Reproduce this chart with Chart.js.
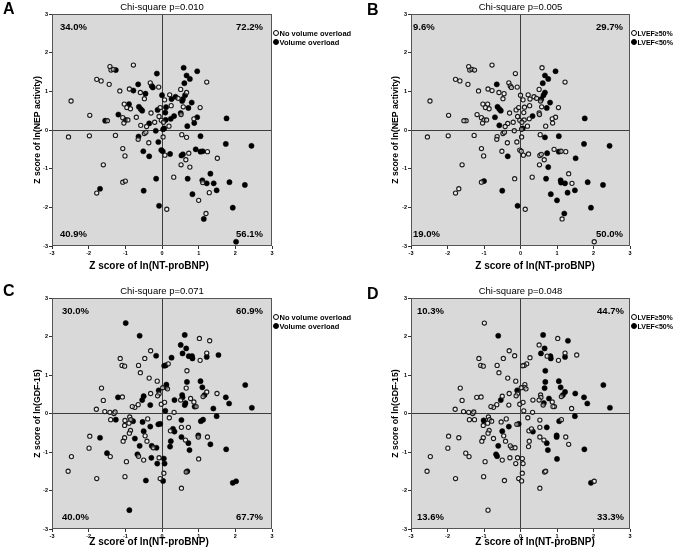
<!DOCTYPE html>
<html>
<head>
<meta charset="utf-8">
<script src="https://cdn.jsdelivr.net/npm/chart.js@4.4.1/dist/chart.umd.min.js"></script>
<style>
  html, body { margin: 0; padding: 0; background: #fff; }
  body { width: 675px; height: 556px; position: relative; overflow: hidden;
         font-family: "Liberation Sans", Arial, sans-serif; color: #000; }
  .panel { position: absolute; }
  .panel canvas { position: absolute; left: 0; top: 0; }
  .letter { position: absolute; font-weight: bold; font-size: 16px; line-height: 16px; }
  .title { position: absolute; font-size: 9.5px; line-height: 9.5px; white-space: nowrap; transform: translateX(-50%); }
  .xtitle { position: absolute; font-size: 10px; line-height: 10px; font-weight: bold; white-space: nowrap; transform: translateX(-50%); }
  .legrow { position: absolute; height: 9px; display: flex; align-items: center; font-weight: bold; white-space: nowrap; }
  .dot { display: inline-block; width: 4px; height: 4px; border: 1px solid #000; border-radius: 50%; margin-right: 1px; background: #fff; }
  .dot.fill { background: #000; }
</style>
</head>
<body>
<script>
/* ---------- data: z scores ---------- */
// NT-proBNP vs NEP activity (panels A and B)
const nepX = [
  -0.78,-1.42,-1.39,-1.33,-1.26,-1.78,-1.66,-1.44,-0.14,-0.32,
  -0.28,-0.25,-0.65,-0.89,-0.78,-1.15,-0.59,-0.45,-0.09,-0.48,
  -2.48,0.00,-1.03,-0.90,-0.96,-0.86,-0.63,-0.58,-0.54,-1.19,
  -1.07,-1.00,-0.93,-0.70,-1.49,-1.55,-1.97,-1.04,-0.58,-0.35,
  -0.42,-0.30,-0.20,-0.12,-0.08,-0.05,-0.02,0.59,0.96,0.67,
  0.76,0.61,1.22,0.51,0.67,0.63,0.57,0.55,0.21,0.37,
  0.26,0.07,0.81,1.04,0.72,0.58,0.11,0.25,0.51,0.52,
  0.33,0.24,0.09,0.96,0.87,0.88,0.69,1.76,0.19,0.10,
  0.04,0.06,0.03,0.44,-2.55,-1.98,-1.27,-0.64,-0.65,-0.48,
  -0.44,-0.36,-0.10,-0.17,-0.02,-0.51,-0.35,-1.07,-1.01,-1.60,
  -1.07,-1.00,-0.16,-1.69,-1.78,-0.50,-0.08,0.13,0.03,0.54,
  0.67,1.05,0.02,0.08,0.22,0.53,0.57,0.65,0.73,0.92,
  1.05,1.11,1.24,1.51,1.74,2.44,0.52,0.76,0.32,0.70,
  1.32,1.10,1.11,1.22,1.41,1.84,2.26,1.49,1.29,0.83,
  1.00,1.93,1.20,1.14,2.02
];
const nepY = [
  1.68,1.64,1.55,1.57,1.55,1.31,1.27,1.18,1.46,1.22,
  1.14,1.10,1.18,1.06,1.02,1.01,0.97,0.94,1.11,0.81,
  0.75,0.90,0.67,0.67,0.58,0.55,0.60,0.54,0.50,0.40,
  0.32,0.26,0.26,0.33,0.24,0.24,0.38,0.18,0.12,0.17,
  0.09,0.44,0.20,0.52,0.35,0.58,0.25,1.61,1.52,1.41,
  1.32,1.21,1.24,1.05,0.97,0.90,0.80,0.75,0.91,0.86,
  0.80,0.78,0.71,0.58,0.57,0.60,0.59,0.63,0.44,0.40,
  0.36,0.29,0.45,0.33,0.29,0.18,0.10,0.30,0.10,0.26,
  0.20,0.04,0.02,0.82,-0.18,-0.15,-0.14,-0.17,-0.24,-0.09,
  -0.06,-0.33,-0.31,-0.02,-0.52,-0.55,-0.68,-0.48,-0.67,-0.90,
  -1.35,-1.32,-1.26,-1.52,-1.63,-1.57,-1.96,-2.05,-0.18,-0.12,
  -0.19,-0.16,-0.55,-0.65,-0.62,-0.66,-0.63,-0.77,-0.60,-0.50,
  -0.56,-0.55,-0.56,-0.73,-0.36,-0.41,-0.90,-0.96,-1.22,-1.26,
  -1.13,-1.30,-1.36,-1.38,-1.38,-1.35,-1.42,-1.56,-1.62,-1.66,
  -1.82,-2.01,-2.16,-2.30,-2.89
];
// 1 = volume overload (A), 1 = LVEF<50% (B)
const nepVolume = [
  0,0,0,0,1,0,0,0,1,0, 1,1,1,0,1,0,0,1,0,0, 0,1,0,1,0,0,1,1,1,1,
  0,1,0,0,0,1,0,0,0,1, 0,0,0,1,0,0,0,1,1,1, 1,1,0,0,0,1,1,1,0,1,
  1,0,1,0,1,0,1,0,1,0, 1,1,1,1,0,1,1,1,0,1, 0,1,1,0,0,0,0,1,0,0,
  0,0,1,1,1,1,1,0,0,0, 0,0,1,1,0,1,1,0,0,0, 0,1,1,0,1,1,1,0,0,1,
  1,1,0,0,1,1,0,0,0,1, 1,1,0,1,1,1,1,1,0,1, 0,1,0,1,1
];
const nepLvef = [
  0,0,0,0,0,0,0,0,0,0, 0,0,1,0,0,0,0,0,0,0, 0,0,0,0,0,0,1,1,1,0,
  0,0,0,1,0,0,0,0,1,0, 0,0,0,0,0,0,0,0,1,1, 1,1,0,0,1,1,1,0,0,0,
  0,0,1,0,1,0,0,0,0,0, 1,0,0,0,0,0,0,1,0,0, 0,1,0,0,0,0,0,0,0,0,
  0,0,0,0,0,0,1,0,0,0, 0,1,0,0,0,1,1,0,0,0, 1,1,0,0,0,0,0,0,1,0,
  1,0,0,1,1,1,0,1,0,1, 0,1,1,1,0,1,1,1,1,1, 1,1,1,0,0
];

// NT-proBNP vs GDF-15 (panels C and D)
const gdfX = [
  -0.99,-0.61,-0.31,-0.47,-0.16,-1.14,-1.09,-1.02,-0.64,-0.59,
  -0.35,-0.13,-1.65,-1.60,-1.79,-1.56,-1.42,-1.31,-1.28,-1.20,
  -1.08,-0.54,-0.50,-0.65,-0.74,-0.81,-0.32,-0.31,-0.09,-0.08,
  -0.12,-0.02,0.62,1.02,1.30,0.51,0.66,0.56,0.73,0.82,
  0.83,1.22,1.22,1.54,1.04,0.26,0.17,0.10,0.06,0.68,
  0.12,0.11,0.15,0.02,0.68,0.66,1.05,1.10,2.27,1.22,
  1.50,1.16,1.12,0.55,0.56,0.51,0.78,0.87,0.93,0.89,
  0.64,0.62,0.34,0.07,0.09,0.33,1.74,1.83,1.40,2.45,
  -1.26,-1.40,-1.01,-1.02,-0.88,-0.85,-0.90,-0.79,-0.53,-0.39,
  -0.10,-0.05,-0.86,-0.89,-0.50,-0.46,-0.32,-0.41,-0.74,-1.02,
  -1.06,-0.61,-0.64,-0.67,-0.24,-0.28,-0.15,-0.29,-0.50,-0.08,
  -0.13,-1.97,-1.99,-1.69,-1.50,-1.41,-2.47,-2.56,-1.78,-0.97,
  -1.01,-0.44,-0.89,-0.05,0.03,0.05,0.05,0.07,0.20,0.23,
  0.30,0.34,0.24,0.22,0.53,0.53,0.53,0.64,0.72,0.72,
  0.75,0.99,0.99,1.06,1.12,1.24,1.32,1.49,1.75,1.00,
  0.66,0.69,0.53,1.93,2.02
];
const gdfY = [
  2.35,2.02,1.63,1.43,1.50,1.43,1.25,1.23,1.25,1.06,
  0.92,0.84,0.66,0.34,0.11,0.05,0.03,0.00,0.04,0.42,
  0.43,0.35,0.45,0.23,0.16,0.18,0.22,0.52,0.60,0.51,
  0.46,0.24,2.04,1.95,1.89,1.78,1.69,1.56,1.49,1.49,
  1.43,1.57,1.47,1.52,1.38,1.45,1.29,1.25,1.24,1.11,
  0.75,0.68,0.64,0.67,0.82,0.66,0.84,0.68,0.74,0.56,
  0.52,0.48,0.44,0.48,0.42,0.35,0.39,0.30,0.18,0.18,
  0.27,0.22,0.35,0.29,0.07,0.03,0.42,0.26,0.13,0.15,
  -0.16,-0.16,-0.18,-0.31,-0.09,-0.16,-0.25,-0.20,-0.22,-0.14,
  -0.28,-0.27,-0.44,-0.51,-0.46,-0.58,-0.34,-0.72,-0.65,-0.63,
  -0.72,-0.84,-1.11,-1.06,-0.89,-0.84,-0.89,-1.15,-1.21,-1.15,
  -1.30,-0.59,-0.90,-0.63,-1.03,-1.12,-1.12,-1.50,-1.69,-1.25,
  -1.64,-1.74,-2.51,-1.69,-1.75,-1.55,-1.17,-1.30,-0.11,-0.45,
  -0.40,-0.47,-0.72,-0.86,-0.17,-0.36,-0.61,-0.69,-0.77,-0.36,
  -0.95,-0.57,-0.61,-0.20,-0.16,-0.61,-0.80,-0.07,-0.93,-1.18,
  -1.52,-1.50,-1.94,-1.80,-1.76
];
const gdfVolume = [
  1,1,0,0,1,0,0,0,0,0, 0,0,0,0,0,0,0,0,0,1, 0,1,1,0,0,0,1,0,1,0,
  0,0,1,0,0,1,1,1,1,1, 1,0,1,1,0,1,0,1,1,0, 1,1,0,0,1,0,1,1,1,0,
  0,1,0,1,1,0,0,0,0,1, 1,1,1,0,1,0,1,1,1,1, 1,0,0,0,0,0,0,1,1,0,
  1,1,0,0,1,0,1,0,1,0, 0,1,0,1,0,1,1,1,0,0, 1,0,0,1,1,0,0,0,0,0,
  0,1,1,0,1,0,1,1,0,0, 1,1,1,1,1,0,1,0,1,0, 1,1,0,1,1,0,1,1,1,0,
  0,1,0,1,1
];
const gdfLvef = [
  0,1,0,0,0,0,0,0,0,0, 0,0,0,0,0,0,0,0,0,0, 0,1,0,0,0,0,0,0,1,0,
  0,0,1,0,1,0,1,1,0,1, 1,0,1,0,0,0,0,0,0,1, 0,0,0,0,1,1,1,1,1,1,
  1,1,0,0,0,0,1,0,0,0, 1,0,0,0,0,0,1,1,0,1, 0,0,1,0,0,0,0,0,0,0,
  0,1,0,0,1,0,1,0,0,0, 0,1,1,1,0,0,0,0,0,0, 0,0,0,0,0,0,0,0,0,0,
  0,0,0,0,0,0,0,0,0,0, 0,1,0,0,0,0,0,0,1,1, 1,1,1,1,0,0,0,1,1,1,
  0,0,0,1,0
];

// quadrant percentages: upper-left, upper-right, lower-left, lower-right
const pctA = ['34.0%', '72.2%', '40.9%', '56.1%'];
const pctB = ['9.6%', '29.7%', '19.0%', '50.0%'];
const pctC = ['30.0%', '60.9%', '40.0%', '67.7%'];
const pctD = ['10.3%', '44.7%', '13.6%', '33.3%'];
const pValues = ['0.010', '0.005', '0.071', '0.048'];
const panelLetters = ['A', 'B', 'C', 'D'];
const volumeLabels = ['No volume overload', 'Volume overload'];
const lvefLabels = ['LVEF\u226550%', 'LVEF<50%'];
const xTitle = 'Z score of ln(NT-proBNP)';
const yTitles = ['Z score of ln(NEP activity)', 'Z score of ln(GDF-15)'];
const axisMin = -3, axisMax = 3;

/* ---------- layout ---------- */
const FONT = '"Liberation Sans", Arial, sans-serif';
const panels = [
  { xs: nepX, ys: nepY, grp: nepVolume, labels: volumeLabels, pct: pctA, yTitle: yTitles[0],
    left: 0,   top: 0,   w: 340, h: 280, a: {l: 52, t: 14, r: 272, b: 246}, inL: 8,  inR: 9,
    xtX: 149, xtY: 261, letterX: 3, letterY: 1, titleY: 2, legFont: 7.5 },
  { xs: nepX, ys: nepY, grp: nepLvef, labels: lvefLabels, pct: pctB, yTitle: yTitles[0],
    left: 359, top: 0,   w: 316, h: 280, a: {l: 52, t: 14, r: 271, b: 246}, inL: 2,  inR: 7,
    xtX: 176, xtY: 261, letterX: 8, letterY: 2, titleY: 2, legFont: 7 },
  { xs: gdfX, ys: gdfY, grp: gdfVolume, labels: volumeLabels, pct: pctC, yTitle: yTitles[1],
    left: 0,   top: 284, w: 340, h: 272, a: {l: 52, t: 14, r: 272, b: 245}, inL: 10, inR: 9,
    xtX: 149, xtY: 253, letterX: 3, letterY: -1, titleY: 1.5, legFont: 7.5 },
  { xs: gdfX, ys: gdfY, grp: gdfLvef, labels: lvefLabels, pct: pctD, yTitle: yTitles[1],
    left: 359, top: 284, w: 316, h: 272, a: {l: 52, t: 14, r: 271, b: 245}, inL: 6,  inR: 6,
    xtX: 176, xtY: 253, letterX: 8, letterY: 2, titleY: 1.5, legFont: 7 }
];

const quadrantPlugin = {
  id: 'quadrants',
  beforeDraw(chart) {
    const {ctx, chartArea: a} = chart;
    ctx.save();
    ctx.fillStyle = '#d9d9d9';
    ctx.fillRect(a.left, a.top, a.right - a.left, a.bottom - a.top);
    ctx.restore();
  },
  beforeDatasetsDraw(chart) {
    const {ctx, chartArea: a} = chart;
    ctx.save();
    ctx.strokeStyle = '#555';
    ctx.lineWidth = 1;
    ctx.strokeRect(Math.round(a.left) + 0.5, Math.round(a.top) + 0.5,
                   Math.round(a.right - a.left) - 1, Math.round(a.bottom - a.top) - 1);
    ctx.restore();
  },
  afterDatasetsDraw(chart, args, opts) {
    const {ctx, chartArea: a} = chart;
    ctx.save();
    ctx.font = 'bold 9.5px ' + FONT;
    ctx.fillStyle = '#000';
    ctx.textBaseline = 'middle';
    ctx.textAlign = 'left';
    ctx.fillText(opts.pct[0], a.left + opts.inL, a.top + 13);
    ctx.fillText(opts.pct[2], a.left + opts.inL, a.bottom - 12);
    ctx.textAlign = 'right';
    ctx.fillText(opts.pct[1], a.right - opts.inR, a.top + 13);
    ctx.fillText(opts.pct[3], a.right - opts.inR, a.bottom - 12);
    ctx.restore();
  }
};

function groupPoints(xs, ys, grp, g) {
  const out = [];
  xs.forEach((x, i) => { if (grp[i] === g) out.push({x: x, y: ys[i]}); });
  return out;
}

function axisGrid() {
  return {
    display: true,
    color: c => (c.tick && c.tick.value === 0) ? '#3c3c3c' : 'rgba(0,0,0,0)',
    lineWidth: 1,
    drawTicks: true,
    tickLength: 3,
    tickColor: '#333'
  };
}

function addDiv(parent, cls, text, x, y) {
  const d = document.createElement('div');
  d.className = cls;
  d.textContent = text;
  d.style.left = x + 'px';
  d.style.top = y + 'px';
  parent.appendChild(d);
  return d;
}

panels.forEach((p, k) => {
  const box = document.createElement('div');
  box.className = 'panel';
  box.style.left = p.left + 'px';
  box.style.top = p.top + 'px';
  box.style.width = p.w + 'px';
  box.style.height = p.h + 'px';
  document.body.appendChild(box);

  const cv = document.createElement('canvas');
  cv.width = p.w; cv.height = p.h;
  box.appendChild(cv);

  addDiv(box, 'letter', panelLetters[k], p.letterX, p.letterY);
  addDiv(box, 'title', 'Chi-square p=' + pValues[k], (p.a.l + p.a.r) / 2, p.titleY);
  addDiv(box, 'xtitle', xTitle, p.xtX, p.xtY);

  p.labels.forEach((txt, j) => {
    const row = document.createElement('div');
    row.className = 'legrow';
    row.style.left = (p.a.r + 0.5) + 'px';
    row.style.top = (p.a.t + 19 + 9 * j - 4.5) + 'px';
    row.style.fontSize = p.legFont + 'px';
    row.innerHTML = '<span class="dot' + (j ? ' fill' : '') + '"></span>' + txt;
    box.appendChild(row);
  });

  const xScaleH = 14;
  new Chart(cv, {
    type: 'scatter',
    data: {
      datasets: [
        { label: p.labels[0], data: groupPoints(p.xs, p.ys, p.grp, 0),
          pointRadius: 2.1, pointBorderWidth: 1.1, borderColor: '#1a1a1a',
          backgroundColor: 'rgba(255,255,255,0.5)', pointStyle: 'circle' },
        { label: p.labels[1], data: groupPoints(p.xs, p.ys, p.grp, 1),
          pointRadius: 2.6, pointBorderWidth: 0.5, borderColor: '#000',
          backgroundColor: '#000', pointStyle: 'circle' }
      ]
    },
    options: {
      responsive: false,
      animation: false,
      events: [],
      layout: { padding: { left: 0, top: p.a.t, right: p.w - p.a.r, bottom: p.h - p.a.b - xScaleH } },
      plugins: {
        legend: { display: false },
        tooltip: { enabled: false },
        quadrants: { pct: p.pct, inL: p.inL, inR: p.inR }
      },
      scales: {
        x: {
          type: 'linear', min: axisMin, max: axisMax,
          ticks: { stepSize: 1, color: '#000', padding: 1, maxRotation: 0,
                   font: { family: FONT, size: 5.5, weight: 'bold' } },
          grid: axisGrid(),
          border: { display: false },
          afterFit: s => { s.height = xScaleH; }
        },
        y: {
          type: 'linear', min: axisMin, max: axisMax,
          ticks: { stepSize: 1, color: '#000', padding: 1,
                   font: { family: FONT, size: 5.5, weight: 'bold' } },
          grid: axisGrid(),
          border: { display: false },
          title: { display: true, text: p.yTitle, color: '#000',
                   font: { family: FONT, size: 8.7, weight: 'bold' },
                   padding: { top: 32 - (p.left ? 1 : 0), bottom: 0 } },
          afterFit: s => { s.width = p.a.l; }
        }
      }
    },
    plugins: [quadrantPlugin]
  });
});
</script>
</body>
</html>
